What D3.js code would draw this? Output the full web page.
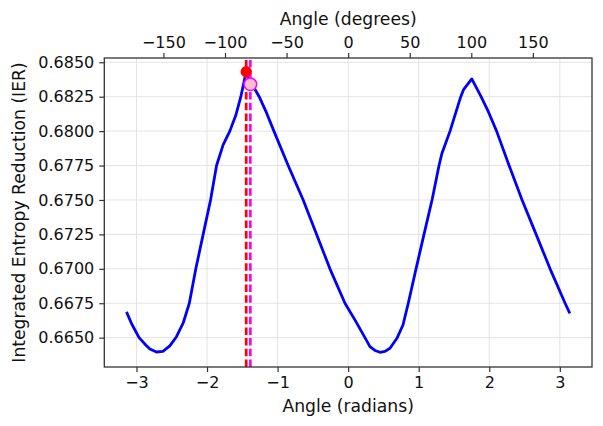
<!DOCTYPE html>
<html>
<head>
<meta charset="utf-8">
<script src="https://cdn.jsdelivr.net/npm/d3@7"></script>
<style>
  html, body { margin: 0; padding: 0; background: #ffffff; }
  svg { display: block; font-family: "DejaVu Sans", sans-serif; }
</style>
</head>
<body>
<svg id="chart" width="603" height="426"></svg>
<script>
// ---- Data ----
const angles = [
  -3.1416, -3.067, -2.963, -2.868, -2.811, -2.716, -2.626, -2.528, -2.433, -2.339,
  -2.251, -2.159, -2.055, -1.950, -1.865, -1.772, -1.677, -1.591, -1.521,
  -1.445, -1.386, -1.315, -1.261, -1.156, -1.052, -0.850, -0.637, -0.447, -0.258,
  -0.045, 0.096, 0.238, 0.309, 0.380, 0.451, 0.522, 0.593, 0.696, 0.777,
  0.852, 0.962, 1.075, 1.189, 1.288, 1.330, 1.444, 1.596, 1.633, 1.752,
  1.884, 1.987, 2.104, 2.281, 2.465, 2.664, 2.862, 3.075, 3.1416
];
const ier = [
  0.66687, 0.66599, 0.66500, 0.66447, 0.66418, 0.66396, 0.66401, 0.66440, 0.66507, 0.66605,
  0.66750, 0.67000, 0.67250, 0.67500, 0.67750, 0.67900, 0.68000, 0.68117, 0.68250,
  0.68432, 0.68340, 0.68299, 0.68250, 0.68132, 0.68000, 0.67750, 0.67500, 0.67250, 0.67000,
  0.66750, 0.66629, 0.66500, 0.66435, 0.66407, 0.66394, 0.66400, 0.66423, 0.66500, 0.66592,
  0.66750, 0.67000, 0.67250, 0.67500, 0.67750, 0.67840, 0.68000, 0.68250, 0.68299, 0.68379,
  0.68250, 0.68141, 0.68000, 0.67750, 0.67500, 0.67250, 0.67000, 0.66750, 0.66677
];
const radianTicks = [-3, -2, -1, 0, 1, 2, 3];
const degreeTicks = [-150, -100, -50, 0, 50, 100, 150];
const ierTicks = [0.6650, 0.6675, 0.6700, 0.6725, 0.6750, 0.6775, 0.6800, 0.6825, 0.6850];
const maxPoint = { angle: -1.445, value: 0.68432 };     // red marker / red dashed line
const chosenPoint = { angle: -1.386, value: 0.68340 };  // pink marker / magenta dashed line

// ---- Layout ----
const svg = d3.select("#chart");
const L = 104.3, R = 592, T = 58, B = 367;
const frameColor = "#333333";
const textColor = "#111111";

const x = d3.scaleLinear().domain([-3.456, 3.456]).range([L, R]);
const y = d3.scaleLinear().domain([0.66287, 0.68531]).range([B, T]);
const xDeg = d3.scaleLinear().domain([-3.456 * 180 / Math.PI, 3.456 * 180 / Math.PI]).range([L, R]);

// grid
const grid = svg.append("g").attr("class", "grid");
grid.selectAll("line.gx").data(radianTicks).join("line")
  .attr("x1", d => x(d)).attr("x2", d => x(d)).attr("y1", T).attr("y2", B)
  .attr("stroke", "#e3e3e3").attr("stroke-width", 1);
grid.selectAll("line.gy").data(ierTicks).join("line")
  .attr("x1", L).attr("x2", R).attr("y1", d => y(d)).attr("y2", d => y(d))
  .attr("stroke", "#e3e3e3").attr("stroke-width", 1);

// clip for plot contents
svg.append("clipPath").attr("id", "clip").append("rect")
  .attr("x", L).attr("y", T).attr("width", R - L).attr("height", B - T);
const plot = svg.append("g").attr("clip-path", "url(#clip)");

// curve
const line = d3.line().x((d, i) => x(angles[i])).y(d => y(d));
plot.append("path").datum(ier)
  .attr("d", line)
  .attr("fill", "none").attr("stroke", "#0000ff").attr("stroke-width", 2.8)
  .attr("stroke-linejoin", "round");

// vertical dashed lines
plot.append("line")
  .attr("x1", x(maxPoint.angle)).attr("x2", x(maxPoint.angle)).attr("y1", B).attr("y2", T)
  .attr("stroke", "#ff0000").attr("stroke-width", 2.7).attr("stroke-dasharray", "7.5,3.2");
plot.append("line")
  .attr("x1", x(chosenPoint.angle)).attr("x2", x(chosenPoint.angle)).attr("y1", B).attr("y2", T)
  .attr("stroke", "#ff00ff").attr("stroke-width", 2.7).attr("stroke-dasharray", "7.5,3.2");

// markers
plot.append("circle")
  .attr("cx", x(maxPoint.angle)).attr("cy", y(maxPoint.value)).attr("r", 5.6)
  .attr("fill", "#ff0000");
plot.append("circle")
  .attr("cx", x(chosenPoint.angle)).attr("cy", y(chosenPoint.value)).attr("r", 6.3)
  .attr("fill", "#ffc0cb").attr("stroke", "#ff00ff").attr("stroke-width", 1.5);

// frame
svg.append("rect").attr("x", L).attr("y", T).attr("width", R - L).attr("height", B - T)
  .attr("fill", "none").attr("stroke", frameColor).attr("stroke-width", 1.3);

// axes
function styleAxis(g) {
  g.select(".domain").remove();
  g.selectAll(".tick line").attr("stroke", frameColor).attr("stroke-width", 1.2);
  g.selectAll(".tick text").attr("fill", textColor).style("font-size", "16px")
    .style("font-family", "'DejaVu Sans', sans-serif");
}
svg.append("g").attr("transform", `translate(0,${B})`)
  .call(d3.axisBottom(x).tickValues(radianTicks).tickSize(5).tickPadding(5).tickFormat(d3.format("d")))
  .call(styleAxis);
svg.append("g").attr("transform", `translate(0,${T})`)
  .call(d3.axisTop(xDeg).tickValues(degreeTicks).tickSize(5).tickPadding(5).tickFormat(d3.format("d")))
  .call(styleAxis);
svg.append("g").attr("transform", `translate(${L},0)`)
  .call(d3.axisLeft(y).tickValues(ierTicks).tickSize(5).tickPadding(5).tickFormat(d3.format(".4f")))
  .call(styleAxis);

// axis labels
svg.append("text").attr("x", (L + R) / 2).attr("y", 412).attr("text-anchor", "middle")
  .style("font-size", "17.2px").attr("fill", textColor).text("Angle (radians)");
svg.append("text").attr("x", (L + R) / 2).attr("y", 25).attr("text-anchor", "middle")
  .style("font-size", "17.2px").attr("fill", textColor).text("Angle (degrees)");
svg.append("text").attr("transform", `translate(25,${(T + B) / 2}) rotate(-90)`)
  .attr("text-anchor", "middle").style("font-size", "17.2px").attr("fill", textColor)
  .text("Integrated Entropy Reduction (IER)");
</script>
</body>
</html>
